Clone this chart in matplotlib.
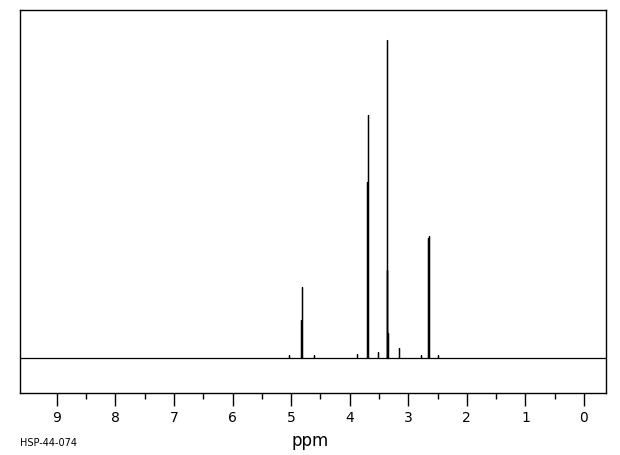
import numpy as np
import matplotlib.pyplot as plt

# 1H NMR line spectrum (HSP-44-074), heights in arbitrary units
peak_ppm = [5.04, 4.825, 4.815, 4.61, 3.87, 3.705, 3.695, 3.52, 3.365, 3.355, 3.35, 3.16, 2.79, 2.655, 2.645, 2.50]
peak_height = [3, 38, 71, 3, 4, 176, 243, 6, 318, 88, 25, 10, 3, 120, 122, 3]

ppm_ticks = [9, 8, 7, 6, 5, 4, 3, 2, 1, 0]
x_left, x_right = 9.63, -0.376

# build the stick trace from the peak lists
xs, ys = [x_left], [0]
for p, h in sorted(zip(peak_ppm, peak_height), key=lambda t: -t[0]):
    xs += [p, p, p]
    ys += [0, h, 0]
xs.append(x_right)
ys.append(0)

fig = plt.figure(figsize=(6.2, 4.55), dpi=100)
ax = fig.add_axes([20 / 620, 62 / 455, 586 / 620, 383 / 455])
ax.plot(xs, ys, color='black', lw=0.9)

ax.set_xlim(x_left, x_right)
ax.set_ylim(-35, 348)
ax.set_yticks([])
ax.set_xticks(ppm_ticks)
ax.set_xticks(np.arange(0.5, 9.5, 1.0), minor=True)
ax.tick_params(axis='x', which='major', length=9, width=1, pad=4, labelsize=10)
ax.tick_params(axis='x', which='minor', length=4.5, width=1)
for s in ax.spines.values():
    s.set_linewidth(1)

fig.text(310, 455 - 441, 'ppm', transform=None, ha='center', va='center', fontsize=12)
fig.text(20, 455 - 443, 'HSP-44-074', transform=None, ha='left', va='center', fontsize=7)

plt.savefig('out.png', dpi=100)
